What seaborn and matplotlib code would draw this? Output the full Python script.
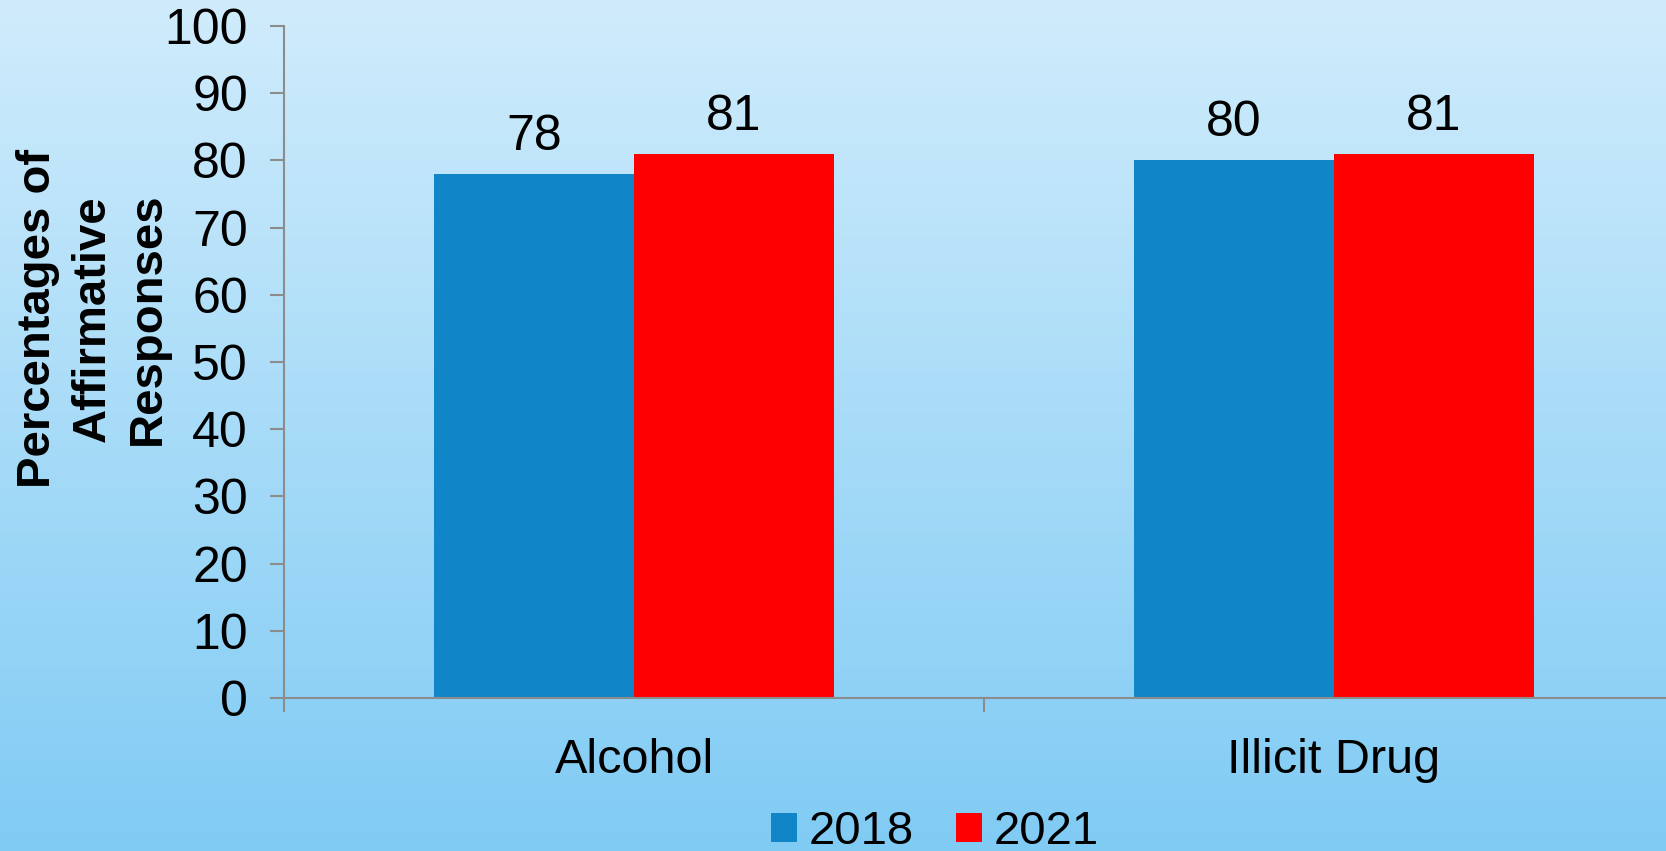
import numpy as np
import pandas as pd
import seaborn as sns
import matplotlib.pyplot as plt
from matplotlib.colors import LinearSegmentedColormap

# Data
categories = ["Alcohol", "Illicit Drug"]
years = ["2018", "2021"]
pct_2018 = [78, 80]
pct_2021 = [81, 81]

df = pd.DataFrame({
    "category": categories * 2,
    "year": [years[0]] * len(categories) + [years[1]] * len(categories),
    "pct": pct_2018 + pct_2021,
})

sns.set_style("ticks")
plt.rcParams['font.family'] = ['Liberation Sans', 'DejaVu Sans']
plt.rcParams['text.color'] = 'black'
plt.rcParams['xtick.labelcolor'] = 'black'
plt.rcParams['ytick.labelcolor'] = 'black'

fig = plt.figure(figsize=(16.66, 8.51), dpi=100)

# gradient background
bg = fig.add_axes([0, 0, 1, 1], zorder=-1)
grad = np.linspace(0, 1, 256).reshape(-1, 1)
cmap = LinearSegmentedColormap.from_list("bg", ["#d0ecfc", "#80cbf4"])
bg.imshow(grad, aspect='auto', cmap=cmap, extent=[0, 1, 0, 1])
bg.axis('off')

ax = fig.add_axes([0.1705, 0.1798, 0.8403, 0.7897])
ax.patch.set_alpha(0)
sns.barplot(data=df, x="category", y="pct", hue="year",
            palette=["#1085c8", "#ff0000"], width=0.571, saturation=1,
            ax=ax, linewidth=0)

ax.set_xlim(-0.5, 1.5)
ax.set_ylim(0, 100)
ax.set_yticks(range(0, 101, 10))
ax.set_xlabel("")
ax.set_ylabel("")

gray = "#8c8c8c"
for s in ["top", "right"]:
    ax.spines[s].set_visible(False)
for s in ["left", "bottom"]:
    ax.spines[s].set_color(gray)
    ax.spines[s].set_linewidth(1.5)

ax.tick_params(axis='y', labelsize=36, length=10, width=1.5, color=gray, pad=16)
ax.tick_params(axis='x', which='major', labelsize=35, length=0, pad=29)
ax.set_xticks([-0.5, 0.5, 1.5], minor=True)
ax.tick_params(axis='x', which='minor', length=10, width=1.5, color=gray)

for c in ax.containers:
    ax.bar_label(c, fontsize=36, padding=10)

fig.text(93 / 1666, 0.626, "Percentages of\nAffirmative\nResponses",
         rotation=90, ha='center', va='center', multialignment='center',
         fontsize=34, fontweight='bold', linespacing=1.33)

handles, labels = ax.get_legend_handles_labels()
ax.get_legend().remove()
fig.legend(handles, labels, loc='center', bbox_to_anchor=(935 / 1666, 1 - 832 / 851),
           ncol=2, frameon=False, fontsize=34, handlelength=0.55, handleheight=0.55,
           handletextpad=0.25, columnspacing=0.9, borderpad=0)

fig.savefig("out.png", dpi=100)
